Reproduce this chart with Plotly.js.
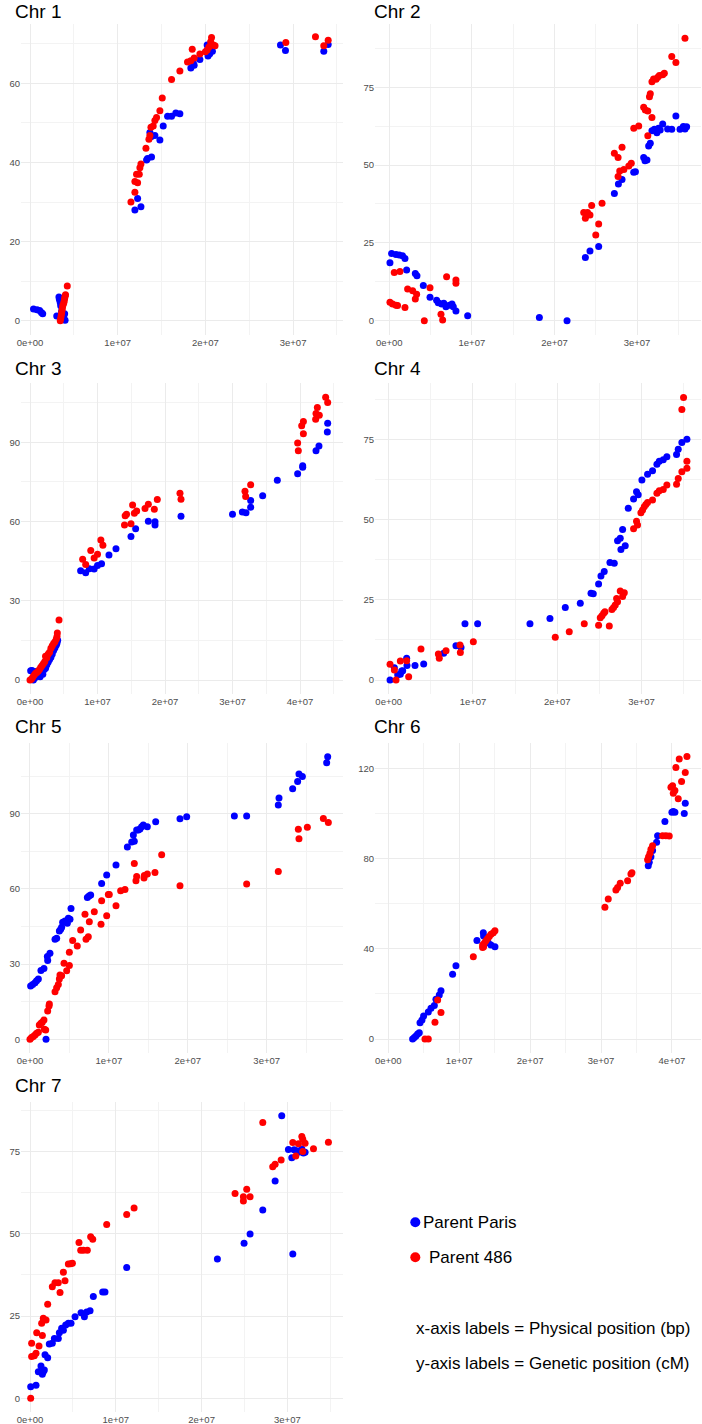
<!DOCTYPE html>
<html><head><meta charset="utf-8">
<script src="https://cdn.plot.ly/plotly-3.0.1.min.js"></script>
<style>html,body{margin:0;padding:0;background:#fff}#chart{width:702px;height:1424px}</style>
</head><body><div id="chart"></div>
<script>
const chrNames = ["Chr 1","Chr 2","Chr 3","Chr 4","Chr 5","Chr 6","Chr 7"];
const seriesNames = ["Parent Paris","Parent 486"];
const xTickVals = [0,1e7,2e7,3e7,4e7];
const xTickText = ["0e+00","1e+07","2e+07","3e+07","4e+07"];
const noteLines = ["x-axis labels = Physical position (bp)","y-axis labels = Genetic position (cM)"];

const chr1ParisX = [4e5,8e5,1.1e6,1.3e6,1.45e6,3.05e6,3.3e6,3.35e6,3.45e6,3.5e6,3.6e6,3.75e6,3.85e6,3.95e6,4.0e6,1.196e7,1.227e7,1.265e7,1.329e7,1.34e7,1.386e7,1.367e7,1.38e7,1.424e7,1.481e7,1.519e7,1.569e7,1.614e7,1.663e7,1.709e7,1.834e7,1.872e7,1.861e7,1.937e7,2.02e7,2.03e7,2.05e7,2.08e7,2.856e7,2.913e7,3.35e7,3.4e7];
const chr1ParisY = [3.0,2.8,2.6,2.1,1.8,1.2,6.0,5.4,4.6,3.8,2.4,1.4,0.8,1.8,0.1,28.0,30.9,28.8,40.6,41.0,41.4,47.6,46.5,46.8,45.7,49.2,51.7,51.7,52.5,52.3,63.9,64.6,65.3,66.0,69.7,66.9,67.5,68.1,69.7,68.3,68.1,69.8];
const chr1P486X = [3.45e6,3.5e6,3.55e6,3.6e6,3.65e6,3.7e6,3.75e6,3.85e6,3.9e6,3.95e6,4.0e6,4.05e6,4.25e6,1.151e7,1.196e7,1.196e7,1.227e7,1.215e7,1.246e7,1.253e7,1.265e7,1.322e7,1.356e7,1.367e7,1.379e7,1.405e7,1.424e7,1.443e7,1.481e7,1.508e7,1.614e7,1.709e7,1.796e7,1.834e7,1.85e7,1.872e7,1.937e7,2.0e7,2.02e7,2.04e7,2.06e7,2.07e7,2.09e7,2.11e7,2.917e7,3.255e7,3.35e7,3.4e7];
const chr1P486Y = [0.0,0.6,1.2,1.9,2.6,3.3,3.9,4.5,5.0,5.6,6.2,6.6,8.8,30.0,32.5,35.2,34.9,37.0,37.0,38.7,39.6,43.6,45.9,46.8,48.9,49.2,50.6,51.4,53.1,56.3,61.0,63.1,65.4,65.7,68.6,66.4,67.4,68.0,68.4,69.2,70.5,71.6,69.7,69.5,70.3,71.8,69.5,70.9];

const chr2ParisX = [8e4,2.8e5,8.1e5,1.21e6,1.6e6,1.9e6,2.1e6,3.15e6,3.35e6,4.12e6,4.93e6,5.73e6,5.93e6,6.34e6,6.6e6,6.86e6,7.27e6,7.59e6,7.75e6,8.07e6,9.49e6,1.817e7,2.152e7,2.374e7,2.43e7,2.535e7,2.725e7,2.774e7,2.818e7,2.959e7,2.98e7,3.08e7,3.096e7,3.12e7,3.14e7,3.16e7,3.18e7,3.21e7,3.24e7,3.26e7,3.28e7,3.31e7,3.37e7,3.42e7,3.47e7,3.52e7,3.56e7,3.58e7,3.6e7];
const chr2ParisY = [18.6,21.6,21.3,21.1,20.9,20.0,16.3,15.2,14.4,11.3,7.5,6.6,5.8,5.4,5.6,4.5,5.0,5.4,4.5,3.1,1.6,1.0,0.0,20.3,22.4,23.8,40.9,43.9,45.4,47.7,47.9,52.4,51.4,51.6,56.1,57.0,61.0,61.5,60.4,61.8,61.3,63.2,61.6,61.5,65.8,61.5,62.4,61.6,62.3];
const chr2P486X = [8e4,4e5,8.1e5,1.0e6,6e5,1.29e6,1.9e6,2.22e6,2.83e6,3.31e6,3.15e6,4.24e6,4.93e6,6.26e6,6.46e6,6.94e6,8.07e6,8.07e6,2.354e7,2.374e7,2.4e7,2.43e7,2.45e7,2.5e7,2.535e7,2.576e7,2.725e7,2.77e7,2.77e7,2.79e7,2.818e7,2.84e7,2.9e7,2.93e7,2.96e7,3.02e7,3.08e7,3.1e7,3.13e7,3.13e7,3.15e7,3.16e7,3.18e7,3.18e7,3.2e7,3.23e7,3.25e7,3.27e7,3.31e7,3.33e7,3.42e7,3.47e7,3.58e7];
const chr2P486Y = [5.9,5.4,5.0,4.9,15.5,15.8,4.2,10.2,9.6,8.5,7.0,0.0,10.6,2.1,0.2,14.1,13.1,12.0,34.8,32.9,34.8,34.0,37.0,27.5,31.1,37.7,53.8,52.4,46.3,48.1,55.7,48.6,49.7,50.6,61.8,62.6,68.6,67.7,67.4,59.4,72.0,72.9,65.3,76.8,77.7,77.6,78.2,78.8,79.0,79.5,84.9,83.0,90.8];

const chr3ParisX = [1e5,3e5,5e5,7e5,9e5,1.0e6,1.2e6,1.4e6,1.5e6,1.7e6,1.9e6,2.1e6,2.3e6,2.5e6,2.7e6,2.9e6,3.1e6,3.3e6,3.5e6,3.7e6,3.9e6,4.0e6,4.1e6,7.5e6,8.25e6,8.8e6,9.5e6,1.0e7,1.06e7,1.17e7,1.274e7,1.496e7,1.565e7,1.753e7,1.852e7,1.852e7,2.237e7,3.0e7,3.146e7,3.2e7,3.269e7,3.269e7,3.447e7,3.664e7,3.965e7,4.04e7,4.04e7,4.237e7,4.281e7,4.405e7,4.41e7];
const chr3ParisY = [3.5,3.6,0.0,0.8,3.2,2.0,1.5,2.8,1.2,3.0,2.2,4.0,4.4,5.8,6.8,7.8,8.6,9.8,11.2,12.2,13.2,14.0,15.0,41.3,40.6,42.1,42.0,43.3,44.0,47.3,49.7,54.3,57.2,60.1,59.9,58.7,62.0,62.7,63.6,63.3,65.4,67.9,69.7,75.6,78.1,81.1,80.5,86.8,88.6,93.9,97.2];
const chr3P486X = [0,2e5,4e5,6e5,8e5,1.0e6,1.2e6,1.4e6,1.6e6,1.8e6,2.0e6,2.2e6,2.3e6,2.5e6,2.7e6,2.9e6,3.1e6,3.3e6,3.5e6,3.7e6,3.9e6,4.0e6,4.05e6,4.3e6,7.8e6,8.25e6,9.0e6,9.5e6,1.0e7,1.05e7,1.08e7,1.40e7,1.41e7,1.43e7,1.496e7,1.52e7,1.546e7,1.58e7,1.704e7,1.753e7,1.842e7,1.886e7,2.222e7,2.237e7,3.185e7,3.195e7,3.269e7,3.965e7,3.975e7,4.025e7,4.05e7,4.05e7,4.232e7,4.237e7,4.257e7,4.286e7,4.38e7,4.41e7];
const chr3P486Y = [0.0,0.3,1.0,1.8,2.5,2.8,3.3,4.0,4.8,5.5,6.2,7.0,9.0,8.4,9.8,10.5,12.0,13.0,13.8,14.5,15.5,16.5,17.8,22.7,45.7,43.7,49.0,46.2,47.6,53.0,51.0,58.7,62.2,62.7,59.1,66.2,63.1,64.0,64.9,66.5,64.6,68.3,70.7,68.4,71.4,69.4,73.9,89.7,86.8,96.2,97.8,93.2,98.7,100.9,103.1,100.2,107.0,105.0];

const chr4ParisX = [1.6e5,6.7e5,1.07e6,1.38e6,1.54e6,1.66e6,2.13e6,2.17e6,3.12e6,4.15e6,6.52e6,7.98e6,8.58e6,9.05e6,1.055e7,1.676e7,1.913e7,2.095e7,2.273e7,2.4e7,2.427e7,2.49e7,2.518e7,2.557e7,2.625e7,2.676e7,2.715e7,2.747e7,2.755e7,2.775e7,2.806e7,2.842e7,2.905e7,2.94e7,2.96e7,3.004e7,3.071e7,3.13e7,3.182e7,3.21e7,3.257e7,3.3e7,3.415e7,3.435e7,3.478e7,3.538e7];
const chr4ParisY = [0,3.8,1.6,1.8,2.8,2.9,6.8,4.5,4.5,5.0,8.3,10.7,10.1,17.5,17.5,17.5,19.2,22.6,23.9,27.0,26.9,29.9,32.4,33.8,36.6,36.4,43.4,44.2,40.7,46.9,41.8,53.5,56.4,58.7,57.7,62.3,64.1,65.2,67.2,68.2,68.6,69.6,70.3,71.9,74.0,75.0];
const chr4P486X = [1.6e5,6.7e5,8.7e5,1.38e6,2.13e6,2.37e6,3.83e6,5.89e6,6.0e6,6.8e6,8.46e6,8.5e6,1.004e7,1.976e7,2.142e7,2.32e7,2.49e7,2.51e7,2.53e7,2.55e7,2.565e7,2.617e7,2.648e7,2.668e7,2.688e7,2.704e7,2.715e7,2.747e7,2.775e7,2.795e7,2.905e7,2.94e7,2.952e7,2.992e7,3.012e7,3.032e7,3.051e7,3.071e7,3.13e7,3.182e7,3.21e7,3.257e7,3.3e7,3.415e7,3.435e7,3.478e7,3.478e7,3.498e7,3.538e7,3.538e7];
const chr4P486Y = [4.9,3.1,0,5.9,6.0,1.0,9.7,8.1,6.8,9.1,10.9,8.6,11.9,13.3,15.0,17.5,17.1,19.4,20.0,20.8,21.3,16.8,22.0,22.6,23.4,25.4,24.4,27.7,26.0,27.2,47.1,49.5,48.3,52.1,53.0,54.0,54.7,55.3,56.1,58.2,59.0,59.4,60.8,61.0,62.8,64.9,84.3,88.0,66.0,68.2];

const chr5ParisX = [8e4,3.4e5,6.3e5,8.4e5,1.06e6,1.39e6,1.77e6,2.03e6,2.24e6,2.2e6,2.53e6,3.17e6,3.38e6,3.72e6,3.89e6,4.01e6,4.14e6,4.44e6,4.73e6,4.86e6,5.07e6,5.2e6,7.27e6,7.48e6,7.69e6,9.08e6,9.72e6,1.09e7,1.234e7,1.289e7,1.322e7,1.31e7,1.352e7,1.373e7,1.394e7,1.415e7,1.436e7,1.487e7,1.593e7,1.901e7,1.986e7,2.59e7,2.746e7,3.147e7,3.156e7,3.329e7,3.392e7,3.409e7,3.452e7,3.76e7,3.773e7];
const chr5ParisY = [21.3,21.9,22.6,23.4,24.1,27.4,28.2,0,31.4,33.0,34.3,39.9,40.3,43.2,43.9,44.7,46.7,47.2,46.3,48.3,47.9,52.2,56.6,57.2,57.6,62.2,65.5,69.5,76.7,78.7,79.0,81.5,83.5,83.5,83.9,84.8,85.5,84.8,86.8,88.0,88.8,89.1,89.1,93.5,96.3,100.0,102.8,105.8,104.8,110.3,112.7];
const chr5P486X = [0,2e5,4.2e5,6.3e5,8.4e5,1.06e6,1.18e6,1.39e6,1.56e6,1.77e6,1.82e6,1.99e6,2.24e6,2.45e6,2.41e6,3.17e6,3.38e6,3.59e6,3.72e6,3.8e6,4.01e6,4.31e6,4.65e6,4.99e6,4.99e6,5.41e6,5.99e6,6.42e6,6.97e6,7.1e6,7.39e6,7.52e6,8.15e6,9.0e6,9.08e6,9.72e6,9.93e6,1.005e7,1.09e7,1.149e7,1.204e7,1.322e7,1.343e7,1.352e7,1.445e7,1.449e7,1.487e7,1.584e7,1.669e7,1.901e7,2.746e7,3.147e7,3.401e7,3.409e7,3.515e7,3.718e7,3.781e7];
const chr5P486Y = [0,0.7,1.1,1.7,2.4,2.8,5.7,6.4,6.8,7.7,4.0,3.7,11.3,14.1,13.3,19.0,20.6,21.9,24.1,25.7,25.4,30.3,27.3,29.4,34.7,39.4,37.2,43.6,49.9,39.9,40.9,46.9,50.9,45.9,55.3,49.3,57.8,57.8,53.3,59.3,59.8,70.1,63.3,64.9,64.3,65.3,65.9,66.5,73.6,61.3,62.0,66.9,83.8,80.0,84.6,88.1,86.5];

const chr6ParisX = [3.43e6,3.67e6,3.9e6,4.14e6,4.37e6,4.47e6,4.75e6,4.98e6,5.64e6,6.02e6,6.49e6,6.72e6,7.19e6,7.43e6,9.07e6,9.54e6,1.25e7,1.34e7,1.344e7,1.377e7,1.41e7,1.448e7,1.504e7,3.666e7,3.68e7,3.704e7,3.727e7,3.784e7,3.798e7,3.901e7,4.0e7,4.019e7,4.042e7,4.174e7,4.188e7];
const chr6ParisY = [0,0.7,1.3,2.2,2.8,7.2,8.4,10.2,12.0,13.6,14.8,17.6,19.5,21.4,28.7,32.5,43.7,47.1,45.7,43.2,42.7,41.7,40.9,76.8,78.3,80.8,83.5,87.2,90.1,96.4,100.5,100.8,100.5,100.0,104.5];
const chr6P486X = [5.17e6,5.64e6,6.58e6,6.96e6,7.43e6,1.199e7,1.33e7,1.33e7,1.344e7,1.354e7,1.377e7,1.401e7,1.424e7,1.448e7,1.481e7,1.504e7,3.055e7,3.102e7,3.21e7,3.234e7,3.271e7,3.375e7,3.422e7,3.436e7,3.657e7,3.671e7,3.69e7,3.704e7,3.727e7,3.868e7,3.915e7,3.962e7,3.986e7,4.009e7,4.019e7,4.042e7,4.056e7,4.089e7,4.103e7,4.136e7,4.188e7,4.212e7];
const chr6P486Y = [0,0,7.4,17.3,11.7,36.5,40.6,41.7,40.9,42.4,43.6,44.6,45.4,46.4,47.1,48.0,58.4,62.1,66.1,67.1,69.0,70.2,73.1,73.7,79.4,80.8,82.3,84.1,85.7,90.1,90.1,90.0,111.6,112.2,108.9,110.1,120.3,106.5,124.1,114.1,118.1,125.2];

const chr7ParisX = [8e4,7e5,9.7e5,1.28e6,1.44e6,1.55e6,1.67e6,1.75e6,2.06e6,2.25e6,2.6e6,2.84e6,3.3e6,3.42e6,3.69e6,3.89e6,4.16e6,4.47e6,4.78e6,5.25e6,5.95e6,6.34e6,6.61e6,7.0e6,7.38e6,8.47e6,8.74e6,1.127e7,2.184e7,2.495e7,2.565e7,2.713e7,2.857e7,2.934e7,3.012e7,3.051e7,3.063e7,3.078e7,3.109e7,3.14e7,3.168e7,3.187e7,3.206e7];
const chr7ParisY = [3.5,4.0,8.1,9.8,7.3,8.1,8.6,13.2,12.3,16.5,16.7,18.2,18.2,19.9,21.3,20.7,22.3,22.8,22.8,24.8,26.0,24.8,26.2,26.6,30.9,32.3,32.3,39.7,42.3,47.1,49.9,57.2,66.0,85.8,75.6,73.1,43.8,75.5,75.2,74.8,75.7,74.5,74.7];
const chr7P486X = [8e4,1.9e5,1.9e5,5e5,7e5,7.8e5,1.05e6,1.36e6,1.44e6,1.55e6,1.87e6,2.06e6,2.6e6,2.91e6,3.3e6,3.5e6,3.89e6,4.08e6,4.47e6,4.74e6,4.94e6,5.71e6,5.91e6,6.22e6,6.68e6,7.07e6,7.31e6,8.94e6,1.127e7,1.213e7,2.39e7,2.487e7,2.487e7,2.526e7,2.565e7,2.713e7,2.829e7,2.857e7,2.927e7,3.063e7,3.098e7,3.129e7,3.168e7,3.179e7,3.179e7,3.206e7,3.304e7,3.478e7];
const chr7P486Y = [0,16.7,12.7,12.9,13.7,19.9,15.9,22.8,19.1,24.3,23.8,28.6,33.9,35.1,35.1,32.1,38.3,35.7,40.8,40.9,41.0,47.3,45.0,45.0,45.0,49.1,48.3,52.8,55.8,57.8,62.2,61.2,59.9,63.5,61.2,83.8,70.3,71.1,72.4,77.7,73.6,77.3,79.5,78.7,75.0,77.5,75.8,77.8];

const parisData = [[chr1ParisX,chr1ParisY],[chr2ParisX,chr2ParisY],[chr3ParisX,chr3ParisY],[chr4ParisX,chr4ParisY],[chr5ParisX,chr5ParisY],[chr6ParisX,chr6ParisY],[chr7ParisX,chr7ParisY]];
const p486Data = [[chr1P486X,chr1P486Y],[chr2P486X,chr2P486Y],[chr3P486X,chr3P486Y],[chr4P486X,chr4P486Y],[chr5P486X,chr5P486Y],[chr6P486X,chr6P486Y],[chr7P486X,chr7P486Y]];

// ---- layout geometry (pixels) ----
const W = 702, H = 1424;
const colPx = [[21,343],[375,701]];
const rowPx = [[24,335],[383,694],[743,1053],[1102,1412]];
const titleY = [null, 368.3, 726.7, 1085.3];
const titleX = [14, 372.5];
const panels = [
  {col:0,row:0,xr:[-1.026e6,3.569e7],yr:[-3.6,75.0],dy:20},
  {col:1,row:0,xr:[-1.73e6,3.774e7],yr:[-4.6,95.34],dy:25},
  {col:0,row:1,xr:[-1.333e6,4.637e7],yr:[-5.3,112.4],dy:30},
  {col:1,row:1,xr:[-1.625e6,3.705e7],yr:[-4.36,92.55],dy:25},
  {col:0,row:2,xr:[-1.14e6,3.967e7],yr:[-5.46,118.2],dy:30},
  {col:1,row:2,xr:[-1.876e6,4.41e7],yr:[-6.2,131.2],dy:40},
  {col:0,row:3,xr:[-1.049e6,3.648e7],yr:[-4.16,90.0],dy:25}
];
const COLORS = ["#0000FF","#FF0000"];
const FONT = "Liberation Sans, Arial, Helvetica, sans-serif";

const traces = [];
const layout = {
  width: W, height: H,
  margin: {l:0,r:0,t:0,b:0,pad:0},
  paper_bgcolor: "#FFFFFF", plot_bgcolor: "#FFFFFF",
  showlegend: false,
  font: {family: FONT, color: "#000"},
  annotations: [], shapes: []
};

panels.forEach((p, i) => {
  const sfx = i === 0 ? "" : String(i + 1);
  const xa = "x" + sfx, ya = "y" + sfx;
  [parisData[i], p486Data[i]].forEach((d, k) => {
    traces.push({
      type: "scatter", mode: "markers",
      x: d[0], y: d[1], xaxis: xa, yaxis: ya,
      name: seriesNames[k],
      marker: {color: COLORS[k], size: 7, line: {width: 0}},
      hoverinfo: "x+y+name"
    });
  });
  const cx = colPx[p.col], ry = rowPx[p.row];
  layout["xaxis" + sfx] = {
    domain: [cx[0] / W, cx[1] / W], anchor: ya,
    range: p.xr, autorange: false,
    tickmode: "array", tickvals: xTickVals, ticktext: xTickText,
    showgrid: true, gridcolor: "#EBEBEB", gridwidth: 1,
    minor: {tickmode: "linear", tick0: 0, dtick: 5e6, showgrid: true, gridcolor: "#F3F3F3", gridwidth: 1, ticks: ""},
    zeroline: false, showline: false, ticks: "",
    tickfont: {family: FONT, size: 9.5, color: "#4D4D4D"}
  };
  layout["yaxis" + sfx] = {
    domain: [1 - ry[1] / H, 1 - ry[0] / H], anchor: xa,
    range: p.yr, autorange: false,
    tickmode: "linear", tick0: 0, dtick: p.dy,
    showgrid: true, gridcolor: "#EBEBEB", gridwidth: 1,
    minor: {tickmode: "linear", tick0: 0, dtick: p.dy / 2, showgrid: true, gridcolor: "#F3F3F3", gridwidth: 1, ticks: ""},
    zeroline: false, showline: false, ticks: "",
    tickfont: {family: FONT, size: 9.5, color: "#4D4D4D"}
  };
  const topRow = p.row === 0;
  layout.annotations.push({
    text: chrNames[i], showarrow: false, xref: "paper", yref: "paper", borderpad: 0,
    x: titleX[p.col] / W,
    y: topRow ? 1 : 1 - titleY[p.row] / H,
    xanchor: "left", yanchor: topRow ? "top" : "middle",
    font: {family: FONT, size: 19, color: "#000"}
  });
});

// legend (drawn manually to match the centred labels of the original)
const legendDotY = [1222.3, 1257.3];
legendDotY.forEach((yy, k) => {
  layout.shapes.push({
    type: "circle", xref: "paper", yref: "paper",
    xsizemode: "pixel", ysizemode: "pixel",
    xanchor: 415.3 / W, yanchor: 1 - yy / H,
    x0: -5, x1: 5, y0: -5, y1: 5,
    fillcolor: COLORS[k], line: {width: 0}
  });
  layout.annotations.push({
    text: seriesNames[k], showarrow: false, xref: "paper", yref: "paper", borderpad: 0,
    x: 470 / W, y: 1 - yy / H, xanchor: "center", yanchor: "middle",
    font: {family: FONT, size: 17, color: "#000"}
  });
});
[1328.3, 1363.3].forEach((yy, k) => {
  layout.annotations.push({
    text: noteLines[k], showarrow: false, xref: "paper", yref: "paper", borderpad: 0,
    x: 415 / W, y: 1 - yy / H, xanchor: "left", yanchor: "middle",
    font: {family: FONT, size: 17, color: "#000"}
  });
});

Plotly.newPlot("chart", traces, layout, {displayModeBar: false, staticPlot: true});
</script>
</body></html>
